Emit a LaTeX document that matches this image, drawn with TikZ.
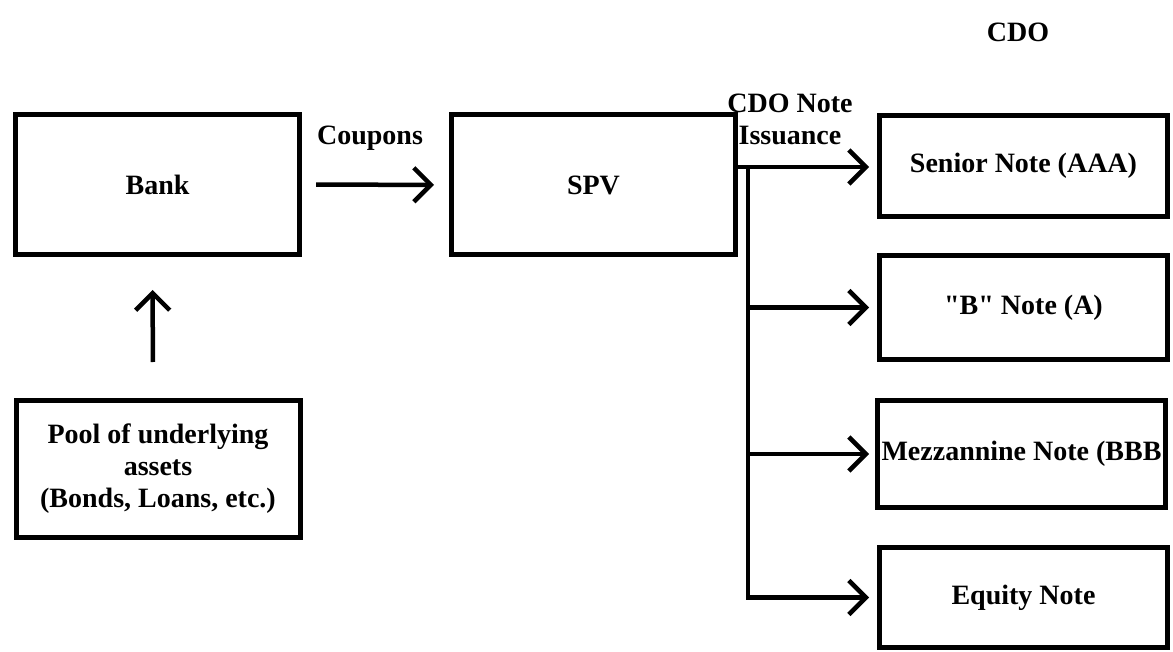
\documentclass[tikz,border=0pt]{standalone}
\usepackage{fontspec}
\newfontfamily\diagfont{Liberation Serif}
\usetikzlibrary{arrows.meta}
\begin{document}
\begin{tikzpicture}[x=1pt,y=-1pt,line width=4.5pt,>={Straight Barb[length=17pt,width=34pt]},
    box node/.style={rectangle,draw,line width=5pt,minimum width=284pt,inner sep=0pt,font=\diagfont\fontsize{28}{32}\selectfont\bfseries,align=center},
    label node/.style={font=\diagfont\fontsize{28}{32}\selectfont\bfseries,align=center,inner sep=0pt}]
    \useasboundingbox (0,0) rectangle (1173,652);

    \node [box node, minimum height=140](1) at (157.5,184.5){Bank};
    \node [box node, minimum height=140](2) at (593.5,185){SPV};
    \node [box node, minimum height=137](5) at (158,469){Pool of underlying\\assets\\(Bonds, Loans, etc.)};

    \node [box node, minimum width=288, minimum height=101](3) at (1023.5,166){Senior Note (AAA)};
    \node [box node, minimum width=288, minimum height=104](4) at (1023.5,307.5){"B" Note (A)};
    \node [box node, minimum width=288, minimum height=107](6) at (1021.5,454){Mezzannine Note (BBB};
    \node [box node, minimum width=288, minimum height=100](7) at (1023.5,597.5){Equity Note};

    \node [label node](c) at (370,138){Coupons};
    \node [label node](i) at (790,119){CDO Note\\Issuance};
    \node [label node](t) at (1018,32){CDO};

    \coordinate (o) at (737,167);
    \coordinate (v) at (748,167);

    \path[->]
        (1) edge [shorten <=14pt, shorten >=15pt] (2)
        ([xshift=-5pt]5.north) edge [shorten <=36pt, shorten >=33pt] ([xshift=-5pt]1.south)
        (o) edge [shorten >=8pt] (o -| 3.west)
        (v |- 4.west) edge [shorten >=8pt] (4.west)
        (v |- 6.west) edge [shorten >=6pt] (6.west)
        ;
    \draw[->, shorten >=8pt] (v) |- (7.west);
\end{tikzpicture}
\end{document}
